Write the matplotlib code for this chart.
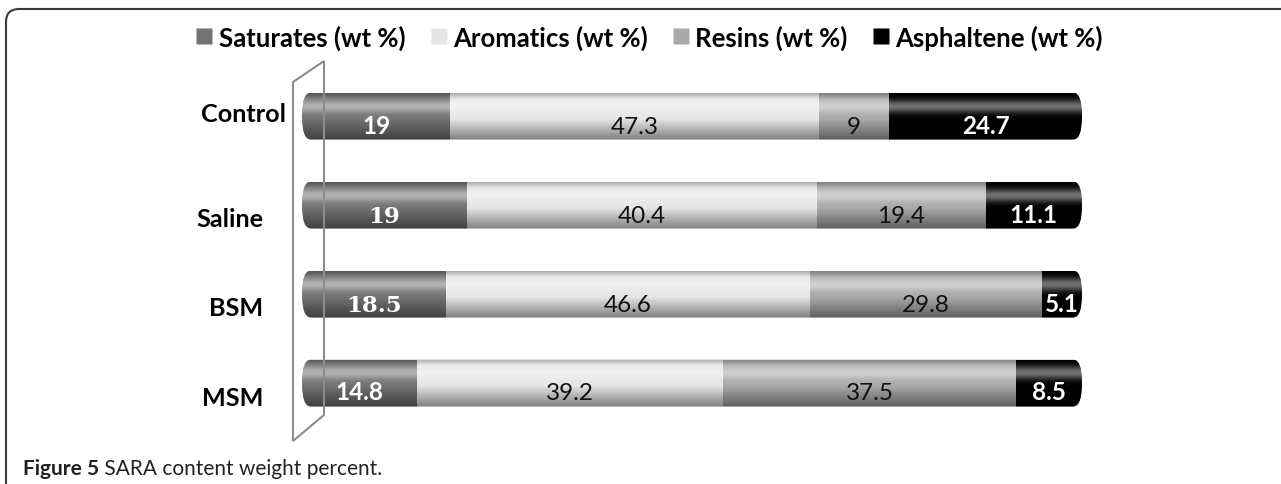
import numpy as np
import matplotlib
matplotlib.use("Agg")
import matplotlib.pyplot as plt
from matplotlib.patches import FancyBboxPatch, Polygon
from matplotlib.lines import Line2D
from matplotlib.transforms import blended_transform_factory

categories = ["Control", "Saline", "BSM", "MSM"]
series_names = ["Saturates (wt %)", "Aromatics (wt %)", "Resins (wt %)", "Asphaltene (wt %)"]
saturates = [19, 19, 18.5, 14.8]
aromatics = [47.3, 40.4, 46.6, 39.2]
resins = [9, 19.4, 29.8, 37.5]
asphaltene = [24.7, 11.1, 5.1, 8.5]

colors = ["#737373", "#e6e6e6", "#aaaaaa", "#000000"]
label_colors = ["white", "#111111", "#111111", "white"]
label_weights = ["bold", "normal", "normal", "bold"]

W, H = 1281, 485
fig = plt.figure(figsize=(W / 100, H / 100), dpi=100)
FONT = "Lato"
renderer = fig.canvas.get_renderer()


def px_to_fig(x, y):
    return x / W, 1 - y / H


def fit_size(text_obj, target_w):
    bb = text_obj.get_window_extent(renderer)
    return text_obj.get_fontsize() * target_w / bb.width


# axes placement (pixels)
left_px, right_px = 302, 1082
top_px, bot_px = 50, 450
ax = fig.add_axes([left_px / W, 1 - bot_px / H, (right_px - left_px) / W, (bot_px - top_px) / H])
ax.set_xlim(0, 1)
unit = 89.0
mid = (len(categories) - 1) / 2
center_px = 250.5
ax.set_ylim(mid + (bot_px - center_px) / unit, mid - (center_px - top_px) / unit)
ax.set_xticks([])
ax.set_yticks([])
for s in ax.spines.values():
    s.set_visible(False)
ax.patch.set_alpha(0)

data = np.array([saturates, aromatics, resins, asphaltene], dtype=float)
frac = data / data.sum(axis=0)
y = np.arange(len(categories))
bar_h = 47 / unit

# rounded clip shape per row
rx = 9 / (right_px - left_px)
aspect = (bar_h / 2 * 0.97) / rx
clips = []
for j in range(len(categories)):
    cp = FancyBboxPatch((0, y[j] - bar_h / 2), 1, bar_h,
                        boxstyle=f"round,pad=0,rounding_size={rx}",
                        mutation_aspect=aspect, transform=ax.transData)
    clips.append(cp)

left = np.zeros(len(categories))
serif_cells = {(0, 1), (0, 2)}
for i, name in enumerate(series_names):
    bars = ax.barh(y, frac[i], left=left, height=bar_h, color=colors[i], label=name,
                   edgecolor="none", zorder=2)
    for j, b in enumerate(bars):
        b.set_clip_path(clips[j])
        cx = left[j] + frac[i][j] / 2
        fam = "DejaVu Serif" if (i, j) in serif_cells else FONT
        fs = 16.5 if (i, j) in serif_cells else 17.5
        ax.text(cx, y[j] + 16.5 / unit, f"{data[i][j]:g}", ha="center", va="baseline",
                fontsize=fs, color=label_colors[i], fontweight=label_weights[i],
                family=fam, zorder=5)
    left = left + frac[i]

# cylindrical shading
g = np.linspace(0, 1, 96)
shade = np.zeros((96, 1, 4))
shade[:, 0, :3] = 1.0
shade[:, 0, 3] = 0.45 * np.exp(-((g - 0.28) / 0.14) ** 2)
dark = np.zeros((96, 1, 4))
dark[:, 0, 3] = np.clip(0.45 * (g - 0.55) / 0.45, 0, 0.45) + np.clip(0.25 * (0.12 - g) / 0.12, 0, 0.25)
for j in range(len(categories)):
    ext = [0, 1, y[j] + bar_h / 2, y[j] - bar_h / 2]
    for img in (shade, dark):
        im = ax.imshow(img, extent=ext, aspect="auto", zorder=3, interpolation="bilinear")
        im.set_clip_path(clips[j])
ax.set_xlim(0, 1)
ax.set_ylim(mid + (bot_px - center_px) / unit, mid - (center_px - top_px) / unit)

# category labels
cat_right_px = [286, 263, 263, 263]
cat_base_off = [5, 21, 21, 22]
trans = blended_transform_factory(ax.transAxes, ax.transData)
t0 = ax.text(0, 0, "Control", fontsize=18, fontweight="bold", family=FONT)
cat_fs = fit_size(t0, 85)
t0.remove()
for j, c in enumerate(categories):
    ax.text((cat_right_px[j] - left_px) / (right_px - left_px), y[j] + cat_base_off[j] / unit, c,
            transform=trans, ha="right", va="baseline", fontsize=cat_fs, fontweight="bold",
            family=FONT, clip_on=False)

# 3D wall on the left
wall_pts = [px_to_fig(293, 442), px_to_fig(293, 83), px_to_fig(324, 62), px_to_fig(324, 416)]
wall = Polygon(wall_pts, closed=True, transform=fig.transFigure, facecolor="none",
               edgecolor="#8c8c8c", lw=1.5, zorder=1)
fig.add_artist(wall)


# legend, scaled to its span in the reference
def make_legend(fs):
    handles = [Line2D([], [], marker="s", ls="none", markersize=fs * 0.64,
                      markerfacecolor=c, markeredgecolor="none") for c in colors]
    return fig.legend(handles, series_names, loc="center",
                      bbox_to_anchor=px_to_fig(649.5, 38), ncol=4, frameon=False,
                      prop={"family": FONT, "size": fs, "weight": "bold"},
                      handletextpad=0.25, columnspacing=0.95, handlelength=0.64,
                      borderpad=0, borderaxespad=0)

leg = make_legend(18)
fig.canvas.draw()
wbb = leg.get_window_extent(renderer).width
fs_leg = 18 * 907 / wbb
leg.remove()
leg = make_legend(fs_leg)

# outer frame
fx0, fy_top = px_to_fig(6, 10)
frame = FancyBboxPatch((fx0, -0.3), 1.3, fy_top + 0.3, transform=fig.transFigure,
                       boxstyle=f"round,pad=0,rounding_size={13 / W}", facecolor="none",
                       edgecolor="#3a3a3a", lw=1.5, mutation_aspect=W / H)
fig.add_artist(frame)

# caption
cx0, cy = px_to_fig(23, 475)
c1 = fig.text(cx0, cy, "Figure 5", fontsize=15, fontweight="bold", family=FONT,
              va="baseline", ha="left", color="#222222")
c2 = fig.text(0, cy, " SARA content weight percent.", fontsize=15, family=FONT,
              va="baseline", ha="left", color="#222222")
w1 = c1.get_window_extent(renderer).width
w2 = c2.get_window_extent(renderer).width
k = 360 / (w1 + w2)
c1.set_fontsize(15 * k)
c2.set_fontsize(15 * k)
w1 = c1.get_window_extent(renderer).width
c2.set_x(cx0 + w1 / W)

fig.savefig("out.png", dpi=100)
